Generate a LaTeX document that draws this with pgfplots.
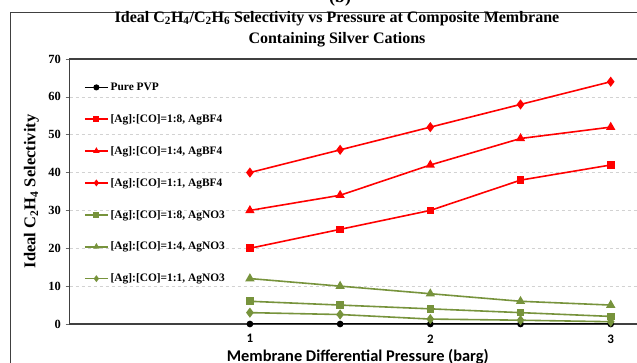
\documentclass[border=0pt]{standalone}
\usepackage{fontspec}
\setmainfont{Liberation Serif}
\newfontfamily\carlito{Carlito}
\usepackage{pgfplots}
\pgfplotsset{compat=1.18}
\definecolor{agred}{RGB}{255,0,0}
\definecolor{aggreen}{RGB}{119,147,60}
\begin{document}
\begin{tikzpicture}[x=1pt,y=1pt]
\useasboundingbox (0,0) rectangle (637,363);
\clip (0,0) rectangle (637,363);
\draw[line width=1pt, black!75] (10,-10) rectangle (700,350);
\node[font=\bfseries\fontsize{18}{18}\selectfont, anchor=base] at (340,360) {(b)};
\node[font=\bfseries\fontsize{16}{21}\selectfont, align=center] at (337,334) {Ideal C\textsubscript{2}H\textsubscript{4}/C\textsubscript{2}H\textsubscript{6} Selectivity vs Pressure at Composite Membrane\\Containing Silver Cations};
\begin{axis}[
  at={(69.5pt,39pt)}, anchor=south west, scale only axis,
  width=575.5pt, height=265pt,
  xmin=0, xmax=3.19, ymin=0, ymax=70,
  xtick={1,2,3}, ytick={0,10,...,70},
  ymajorgrids, grid style={dashed, gray!35, line width=0.6pt},
  axis line style={line width=1.6pt, black!75},
  tick align=outside, major tick length=4pt,
  ytick style={black!60, line width=0.6pt},
  xtick style={draw=none},
  /pgf/number format/assume math mode=true,
  yticklabel style={font=\bfseries\fontsize{12.5}{12.5}\selectfont, xshift=-1pt},
  xticklabel style={font=\carlito\bfseries\fontsize{13}{13}\selectfont, yshift=-3pt},
  ylabel={Ideal C\textsubscript{2}H\textsubscript{4} Selectivity},
  ylabel style={at={(axis description cs:-0.066,0.5)}, anchor=center, font=\bfseries\fontsize{16.5}{16.5}\selectfont},
  xlabel={Membrane Differential Pressure (barg)},
  xlabel style={at={(axis description cs:0.501,-0.122)}, anchor=center, font=\carlito\bfseries\fontsize{16.4}{16.4}\selectfont},
  legend style={at={(axis description cs:0.025,0.918)}, anchor=north west, draw=none, fill=none,
    font=\bfseries\fontsize{11.4}{12}\selectfont, row sep=18.5pt, inner sep=0pt},
  legend cell align=left,
  legend image code/.code={\draw[mark repeat=2,mark phase=2,mark size=2.2pt] plot coordinates {(0pt,0pt) (11.5pt,0pt) (23pt,0pt)};},
  every axis plot/.append style={line width=1.6pt},
]
\addplot[black, mark=*, mark size=2.5pt] coordinates {(1,0) (1.5,0) (2,0) (2.5,0) (3,0)};
\addlegendentry{Pure PVP}
\addplot[agred, mark=square*, mark size=3pt] coordinates {(1,20) (1.5,25) (2,30) (2.5,38) (3,42)};
\addlegendentry{[Ag]:[CO]=1:8, AgBF4}
\addplot[agred, mark=triangle*, mark size=3.8pt] coordinates {(1,30) (1.5,34) (2,42) (2.5,49) (3,52)};
\addlegendentry{[Ag]:[CO]=1:4, AgBF4}
\addplot[agred, mark=diamond*, mark size=3.8pt] coordinates {(1,40) (1.5,46) (2,52) (2.5,58) (3,64)};
\addlegendentry{[Ag]:[CO]=1:1, AgBF4}
\addplot[aggreen, mark=square*, mark size=3pt] coordinates {(1,6) (1.5,5) (2,4) (2.5,3) (3,2)};
\addlegendentry{[Ag]:[CO]=1:8, AgNO3}
\addplot[aggreen, mark=triangle*, mark size=3.8pt] coordinates {(1,12) (1.5,10) (2,8) (2.5,6) (3,5)};
\addlegendentry{[Ag]:[CO]=1:4, AgNO3}
\addplot[aggreen, mark=diamond*, mark size=3.8pt] coordinates {(1,3) (1.5,2.5) (2,1.3) (2.5,1) (3,0.6)};
\addlegendentry{[Ag]:[CO]=1:1, AgNO3}
\end{axis}
\end{tikzpicture}
\end{document}
